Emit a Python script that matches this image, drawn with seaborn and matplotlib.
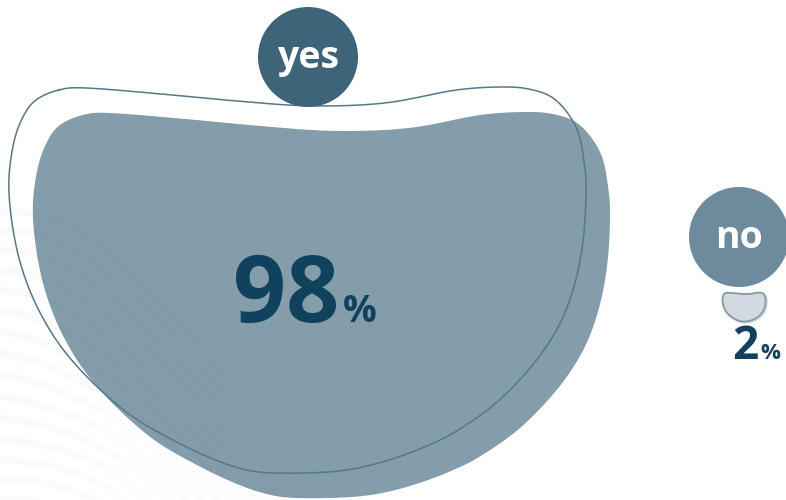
import numpy as np
import pandas as pd
import matplotlib
matplotlib.use("Agg")
import matplotlib.pyplot as plt
import seaborn as sns

# ---- data -------------------------------------------------------------
categories = ["yes", "no"]
values = [98, 2]
value_labels = ["98", "2"]

# ---- style ------------------------------------------------------------
sns.set_theme(style="white")
plt.rcParams["font.family"] = ["Open Sans", "DejaVu Sans"]

W, H = 786, 500
CIRCLE_COLORS = {"yes": "#3e6479", "no": "#6d8b9c"}
BLOB_FILL = {"yes": "#849dab", "no": "#d2dae0"}
BLOB_EDGE = {"yes": "#567889", "no": "#8199a8"}
TEXT_DARK = "#10425e"

# bean outline template (pixel space of the largest blob)
TEMPLATE = np.array([
    (83, 115), (110, 113), (185, 119), (260, 126), (335, 131), (410, 128),
    (480, 115), (530, 112), (557, 115), (577, 123), (593, 140), (603, 160),
    (608, 187), (610, 212), (608, 257), (601, 300), (588, 340), (570, 372),
    (548, 400), (520, 428), (490, 450), (460, 467), (413, 485), (363, 496),
    (297, 498), (263, 493), (230, 481), (197, 465), (160, 444), (130, 420),
    (100, 390), (77, 360), (57, 323), (43, 283), (35, 240), (33, 203),
    (38, 167), (47, 142), (60, 125),
], dtype=float)
T_CX, T_CY, T_W = 321.0, 304.0, 578.0
TEMPLATE_UNIT = (TEMPLATE - [T_CX, T_CY]) / T_W


def closed_spline(pts, n=24, smooth=9):
    """Closed Catmull-Rom spline through the points, lightly smoothed."""
    m = len(pts)
    t = np.linspace(0, 1, n, endpoint=False)[:, None]
    segs = []
    for i in range(m):
        p0, p1, p2, p3 = pts[(i - 1) % m], pts[i], pts[(i + 1) % m], pts[(i + 2) % m]
        segs.append(0.5 * (2 * p1 + (-p0 + p2) * t
                           + (2 * p0 - 5 * p1 + 4 * p2 - p3) * t ** 2
                           + (-p0 + 3 * p1 - 3 * p2 + p3) * t ** 3))
    out = np.vstack(segs)
    k = np.ones(smooth) / smooth
    pad = smooth
    ext = np.vstack([out[-pad:], out, out[:pad]])
    sm = np.column_stack([np.convolve(ext[:, j], k, mode="same") for j in range(2)])
    out = sm[pad:-pad]
    return np.vstack([out, out[:1]])


BEAN = closed_spline(TEMPLATE_UNIT)

# layout: blob centres and label circle centres
blob_centres = {"yes": (321, 304), "no": (744, 307)}
circle_centres = {"yes": (308, 57), "no": (739, 237)}

fig = plt.figure(figsize=(W / 100, H / 100), dpi=100)
ax = fig.add_axes([0, 0, 1, 1])
ax.set_xlim(0, W)
ax.set_ylim(H, 0)
ax.axis("off")

# faint topographic waves in the lower-left corner
xs = np.linspace(-10, 360, 300)
for y0 in np.arange(215, 640, 20):
    ys = y0 + 0.0032 * xs ** 2 + 5 * np.sin(xs / 40.0 + y0 / 60.0)
    for k in range(0, len(xs) - 1, 10):
        a = 0.024 * max(0.0, 1 - xs[k] / 380)
        ax.plot(xs[k:k + 11], ys[k:k + 11], color="#2b4756", alpha=a,
                lw=5, solid_capstyle="butt", zorder=3)

# blobs whose size follows the value
for cat, val in zip(categories, values):
    width = 586 * (val / 100) ** (2 / 3)
    cx, cy = blob_centres[cat]
    shape = BEAN * width + [cx, cy]
    ax.fill(shape[:, 0], shape[:, 1], color=BLOB_FILL[cat], lw=0, zorder=2)
    scale = width / T_W
    if cat == "yes":
        off = np.array([-24, -25]) * scale
        ax.plot(shape[:, 0] + off[0], shape[:, 1] + off[1],
                color=BLOB_EDGE[cat], lw=1.1, zorder=4)
    else:
        ax.plot(shape[:, 0], shape[:, 1], color=BLOB_EDGE[cat], lw=1.3, zorder=4)
        ax.plot(shape[:, 0] + 1.5, shape[:, 1] + 1.2, color="#c3ccd2",
                lw=0.8, zorder=1)

# label circles
circle_df = pd.DataFrame({
    "category": categories,
    "x": [circle_centres[c][0] for c in categories],
    "y": [circle_centres[c][1] for c in categories],
})
sns.scatterplot(data=circle_df, x="x", y="y", hue="category",
                palette=CIRCLE_COLORS, s=(100 * 0.72) ** 2, linewidth=0,
                legend=False, ax=ax, zorder=5)
for cat in categories:
    x, y = circle_centres[cat]
    ax.text(x, y + 1, cat, color="white", fontsize=27, fontweight="bold",
            ha="center", va="center", zorder=6)

# percentage labels
pct_pos = {"yes": (286, 322, 67, 27, 4), "no": (745, 359, 33, 16, 2)}
for cat, lab in zip(categories, value_labels):
    x, y, big, small, gap = pct_pos[cat]
    t = ax.text(x, y, lab, color=TEXT_DARK, fontsize=big, fontweight="bold",
                ha="center", va="baseline", zorder=6)
    fig.canvas.draw()
    bb = t.get_window_extent().transformed(ax.transData.inverted())
    ax.text(max(bb.x0, bb.x1) + gap, y, "%", color=TEXT_DARK, fontsize=small,
            fontweight="bold", ha="left", va="baseline", zorder=6)

fig.savefig("out.png", dpi=100, facecolor="white")
